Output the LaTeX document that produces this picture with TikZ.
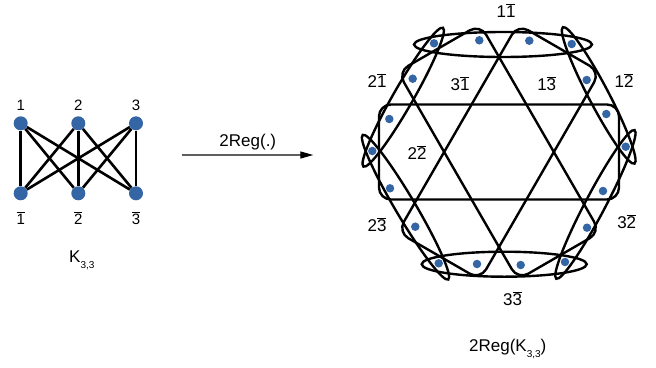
\documentclass[tikz,border=0pt]{standalone}
\usepackage{fontspec}
\setmainfont{Liberation Sans}
\usetikzlibrary{arrows.meta}
\definecolor{dotblue}{RGB}{52,101,164}
\definecolor{arrgray}{RGB}{95,95,95}
\newcommand{\bb}[1]{$\overline{\mbox{#1}}$}
\tikzset{
  vtx/.style={circle, fill=dotblue, inner sep=0pt, minimum size=14pt},
  pt/.style={circle, fill=dotblue, inner sep=0pt, minimum size=8.5pt},
  kedge/.style={line width=2.6pt},
  hedge/.style={line width=2.4pt},
  vlbl/.style={font=\fontsize{15}{18}\selectfont, inner sep=0pt, anchor=base},
  lbl/.style={font=\fontsize{17}{20}\selectfont, inner sep=0pt, anchor=base},
  maparrow/.style={line width=1.3pt, arrgray, -{Triangle[length=13pt,width=7pt,color=black]}}
}
\begin{document}
\begin{tikzpicture}[x=1pt,y=-1pt]
\useasboundingbox (0,0) rectangle (656,367);

%K_{3,3}
\node[vtx] (t1) at (20.7,123.3) {};
\node[vtx] (t2) at (78.3,123.3) {};
\node[vtx] (t3) at (136,123.3) {};
\node[vtx] (b1) at (20.7,193.3) {};
\node[vtx] (b2) at (78.3,193.3) {};
\node[vtx] (b3) at (136,193.3) {};
\draw[kedge] (t1) -- (b1);
\draw[kedge] (t1) -- (b2);
\draw[kedge] (t1) -- (b3);
\draw[kedge] (t2) -- (b1);
\draw[kedge] (t2) -- (b2);
\draw[kedge] (t2) -- (b3);
\draw[kedge] (t3) -- (b1);
\draw[kedge] (t3) -- (b2);
\draw[kedge] (t3) -- (b3);

\node[vlbl] (lt1) at (20.7,110) {1};
\node[vlbl] (lt2) at (78.3,110) {2};
\node[vlbl] (lt3) at (136,110) {3};
\node[vlbl] (lb1) at (20.7,224) {\bb{1}};
\node[vlbl] (lb2) at (78.3,224) {\bb{2}};
\node[vlbl] (lb3) at (136,224) {\bb{3}};
\node[lbl, anchor=base west] (kname) at (69,262.7) {K\raisebox{-6pt}{\fontsize{10}{10}\selectfont 3,3}};

%map
\coordinate (aS) at (181.7,155);
\coordinate (aE) at (313.3,155);
\draw[maparrow] (aS) -- (aE);
\node[lbl] (mapname) at (247.8,146.7) {2Reg(.)};

%2Reg(K_{3,3}): inner hyperedges
\coordinate (c) at (499,152);
\draw[hedge, rounded corners=12pt] (379,104.5) rectangle (619,199.5);
\draw[hedge, rounded corners=12pt, rotate around={60:(c)}] (379,104.5) rectangle (619,199.5);
\draw[hedge, rounded corners=12pt, rotate around={-60:(c)}] (379,104.5) rectangle (619,199.5);

%outer hyperedges
\draw[hedge] (503,44.5) ellipse [x radius=89pt, y radius=12.5pt];
\draw[hedge] (504.2,264.2) ellipse [x radius=82.5pt, y radius=12.5pt];
\draw[hedge, rotate around={60.2:(403.2,97.2)}] (403.2,97.2) ellipse [x radius=80pt, y radius=10pt];
\draw[hedge, rotate around={-62.3:(598.7,95.4)}] (598.7,95.4) ellipse [x radius=77pt, y radius=10pt];
\draw[hedge, rotate around={-59.4:(405.5,207.2)}] (405.5,207.2) ellipse [x radius=84pt, y radius=10pt];
\draw[hedge, rotate around={62.2:(595.4,204.4)}] (595.4,204.4) ellipse [x radius=84pt, y radius=10pt];

%vertices
\node[pt] (r1) at (434,43.3) {};
\node[pt] (r2) at (479.3,40.3) {};
\node[pt] (r3) at (529.3,40.7) {};
\node[pt] (r4) at (571.7,44) {};
\node[pt] (r5) at (586.7,80) {};
\node[pt] (r6) at (606.3,114) {};
\node[pt] (r7) at (625.7,146.7) {};
\node[pt] (r8) at (603,191) {};
\node[pt] (r9) at (587,227.7) {};
\node[pt] (r10) at (565,262) {};
\node[pt] (r11) at (520.7,265) {};
\node[pt] (r12) at (477,264) {};
\node[pt] (r13) at (438.7,263.3) {};
\node[pt] (r14) at (415.3,226.7) {};
\node[pt] (r15) at (390,188.3) {};
\node[pt] (r16) at (372.3,151) {};
\node[pt] (r17) at (389.3,119) {};
\node[pt] (r18) at (412.7,78.7) {};

%labels
\node[lbl] (h11) at (506,17.3) {1\bb{1}};
\node[lbl] (h21) at (377,87.3) {2\bb{1}};
\node[lbl] (h31) at (460,90) {3\bb{1}};
\node[lbl] (h13) at (546.7,90) {1\bb{3}};
\node[lbl] (h12) at (624,87.3) {1\bb{2}};
\node[lbl] (h22) at (417,159.3) {2\bb{2}};
\node[lbl] (h23) at (377,231) {2\bb{3}};
\node[lbl] (h32) at (626.7,228.3) {3\bb{2}};
\node[lbl] (h33) at (512.5,305) {3\bb{3}};
\node[lbl, anchor=base west] (gname) at (469,351.7) {2Reg(K\raisebox{-6pt}{\fontsize{10}{10}\selectfont 3,3})};
\end{tikzpicture}
\end{document}
